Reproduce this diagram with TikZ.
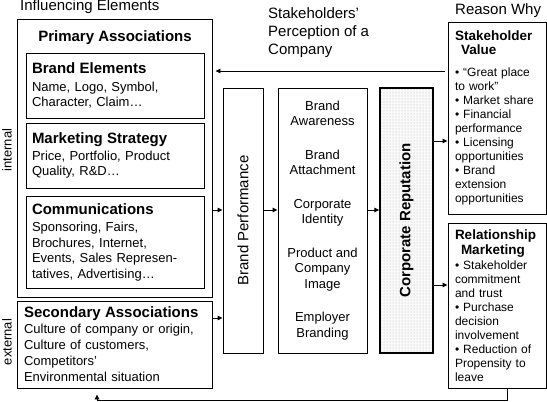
\documentclass[tikz,border=0pt]{standalone}
\usepackage{fontspec}
\setmainfont{Liberation Sans}
\usepackage{tikz}
\usetikzlibrary{arrows.meta,patterns}

\newcommand{\boxhead}[1]{{\fontsize{15}{17}\selectfont\bfseries #1}}
\newcommand{\reasonhead}[1]{{\fontsize{13.5}{15}\selectfont\bfseries #1}}

\begin{document}
\begin{tikzpicture}[
    x=1pt, y=-1pt,
    box/.style={rectangle, draw=black, line width=0.9pt, inner sep=0pt},
    itembox/.style={box, minimum width=178pt, text width=166pt, align=left, font=\fontsize{13}{15.5}\selectfont},
    reason/.style={box, minimum width=98pt, text width=84pt, align=left, font=\fontsize{12}{14}\selectfont},
    title/.style={font=\fontsize{15}{17}\selectfont\bfseries, inner sep=0pt},
    head/.style={font=\fontsize{15}{18}\selectfont, inner sep=0pt},
    side/.style={rotate=90, font=\fontsize{13}{15}\selectfont, inner sep=0pt},
    arrow/.style={-{Triangle[length=5pt,width=4.5pt]}, line width=0.9pt}
]
\useasboundingbox (0,0) rectangle (547,402);

% Headings
\node[head, anchor=base west] (influence) at (20,10.5) {Influencing Elements};
\node[head, anchor=north west, align=left] (perception) at (268,7) {Stakeholders'\\ Perception of a\\ Company};
\node[head, anchor=base west] (reasonwhy) at (455,14.5) {Reason Why};
\node[side] (internal) at (7,150) {internal};
\node[side] (external) at (7,342) {external};

% Influencing elements
\node[box, minimum width=195pt, minimum height=278pt] (primary) at (114.5,158) {};
\node[title] (primtitle) at (115,38) {Primary Associations};
\node[itembox, minimum height=65pt] (brand) at (115,85.5)
    {\boxhead{Brand Elements}\\[2pt] Name, Logo, Symbol,\\ Character, Claim…};
\node[itembox, minimum height=65pt] (strategy) at (115,155.5)
    {\boxhead{Marketing Strategy}\\[1pt] Price, Portfolio, Product\\ Quality, R\&D…};
\node[itembox, minimum height=92pt] (comm) at (115,242)
    {\boxhead{Communications}\\[2pt] Sponsoring, Fairs,\\ Brochures, Internet,\\ Events, Sales Represen-\\ tatives, Advertising…};
\node[box, minimum width=195pt, minimum height=87pt, text width=181pt, align=left,
      font=\fontsize{13}{16}\selectfont] (secondary) at (114.5,344.5)
    {\boxhead{Secondary Associations}\\ Culture of company or origin,\\ Culture of customers,\\ Competitors'\\ Environmental situation};

% Middle columns
\node[box, minimum width=40pt, minimum height=265pt] (perf) at (243,220.5) {};
\node[head, rotate=90] (perflabel) at (perf) {Brand Performance};
\node[box, minimum width=89pt, minimum height=265pt, align=center,
      font=\fontsize{13}{15.5}\selectfont] (assets) at (322.5,220.5)
    {Brand\\ Awareness\\[18pt] Brand\\ Attachment\\[18pt] Corporate\\ Identity\\[18pt]
     Product and\\ Company\\ Image\\[18pt] Employer\\ Branding};
\node[box, line width=1.4pt, preaction={fill=gray!5}, pattern=dots, pattern color=gray!55,
      minimum width=53pt, minimum height=265pt] (corp) at (406.5,220.5) {};
\node[title, rotate=90] (corplabel) at (corp) {Corporate Reputation};

% Reason why
\node[reason, minimum height=192pt] (value) at (497,118)
    {\reasonhead{Stakeholder}\\ \hspace*{6pt}\reasonhead{Value}\\[8pt]
     • “Great place\\ to work”\\ • Market share\\ • Financial\\ performance\\
     • Licensing\\ opportunities\\ • Brand\\ extension\\ opportunities};
\node[reason, minimum height=165pt] (relation) at (497,305.5)
    {\reasonhead{Relationship}\\[1pt] \hspace*{6pt}\reasonhead{Marketing}\\[1pt]
     • Stakeholder\\ commitment\\ and trust\\ • Purchase\\ decision\\ involvement\\
     • Reduction of\\ Propensity to\\ leave};

% Connectors
\coordinate (flow) at (0,210);
\coordinate (extflow) at (0,318);
\coordinate (toval) at (0,141);
\coordinate (torel) at (0,285);
\coordinate (feedback) at (0,71);
\coordinate (relout) at (507,0);
\coordinate (back) at (97,400);

\draw[arrow] (primary.east |- flow) -- (perf.west |- flow);
\draw[arrow] (secondary.east |- extflow) -- (perf.west |- extflow);
\draw[arrow] (perf.east |- flow) -- (assets.west |- flow);
\draw[arrow] (assets.east |- flow) -- (corp.west |- flow);
\draw[arrow] (corp.east |- toval) -- (value.west |- toval);
\draw[arrow] (corp.east |- torel) -- (relation.west |- torel);
\draw[arrow, shorten <=3pt, shorten >=3pt] (value.west |- feedback) -- (primary.east |- feedback);
\draw[arrow, shorten >=6pt] (relation.south -| relout) |- (back) -- (secondary.south -| back);

\end{tikzpicture}
\end{document}
